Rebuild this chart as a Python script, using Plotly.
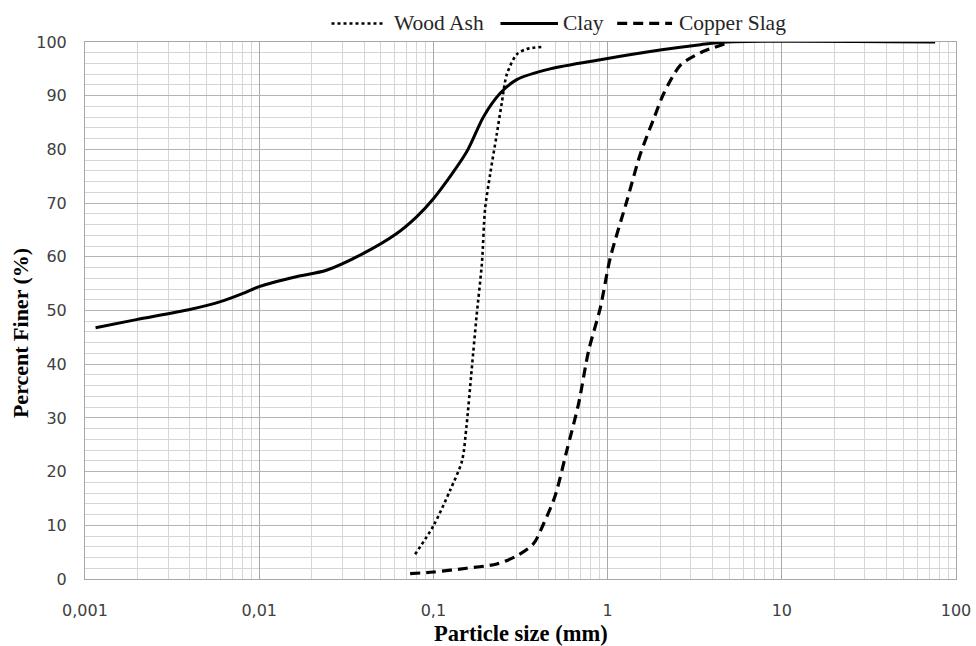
import plotly.graph_objects as go

# Particle size distribution data (size in mm, percent finer in %)
wood_ash_size = [0.0785, 0.1, 0.125, 0.146, 0.155, 0.166, 0.177, 0.19, 0.198, 0.212,
                 0.231, 0.247, 0.264, 0.301, 0.344, 0.428]
wood_ash_pct = [4.6, 9.9, 16.6, 22.0, 28.6, 39.1, 49.0, 58.9, 68.9, 75.5,
                82.8, 88.7, 94.0, 97.7, 98.7, 99.1]

clay_size = [0.00115, 0.00197, 0.00399, 0.00593, 0.00808, 0.0101, 0.0163, 0.0243,
             0.0394, 0.0613, 0.0798, 0.1, 0.155, 0.194, 0.241, 0.301, 0.468, 0.908,
             2.0, 3.41, 4.85, 75.9]
clay_pct = [46.8, 48.3, 50.2, 51.6, 53.2, 54.5, 56.3, 57.5,
            60.6, 64.3, 67.4, 70.8, 79.5, 86.1, 90.4, 93.0, 95.0, 96.7,
            98.5, 99.5, 100.0, 100.0]

copper_slag_size = [0.0735, 0.1, 0.155, 0.231, 0.301, 0.376, 0.428, 0.5, 0.584, 0.681,
                    0.778, 0.908, 1.036, 1.29, 1.54, 1.84, 2.1, 2.62, 3.41, 4.85]
copper_slag_pct = [1.0, 1.3, 2.0, 2.8, 4.3, 6.6, 10.2, 15.5, 24.0, 32.6,
                   42.5, 50.5, 59.8, 70.4, 79.1, 85.7, 90.4, 95.7, 98.0, 99.8]

series_names = ["Wood Ash", "Clay", "Copper Slag"]

x_tick_vals = [0.001, 0.01, 0.1, 1, 10, 100]
x_tick_text = ["0,001", "0,01", "0,1", "1", "10", "100"]
x_minor_vals = [m * d for d in [0.001, 0.01, 0.1, 1, 10] for m in range(2, 10)]
y_minor_vals = [v for v in range(0, 101, 2) if v % 10]

serif = "Liberation Serif"
sans = "DejaVu Sans"

styles = [
    dict(color="black", width=2.6, dash="dot"),
    dict(color="black", width=3),
    dict(color="black", width=3.2, dash="10px,6px"),
]
series = [(wood_ash_size, wood_ash_pct), (clay_size, clay_pct),
          (copper_slag_size, copper_slag_pct)]

fig = go.Figure()
for name, (xs, ys), st in zip(series_names, series, styles):
    fig.add_trace(go.Scatter(
        x=xs, y=ys, name=name, mode="lines", showlegend=False,
        line=dict(shape="spline", smoothing=0.8, **st),
    ))

# Legend row above the plot: sample line followed by its label
legend_rows = [(0.283, 0.342), (0.477, 0.543), (0.611, 0.674)]
label_gap = [0.010, 0.004, 0.006]
for name, (x0, x1), gap, st in zip(series_names, legend_rows, label_gap, styles):
    fig.add_shape(type="line", xref="paper", yref="paper",
                  x0=x0, x1=x1, y0=1.0345, y1=1.0345,
                  line=dict(color=st["color"], width=st["width"], dash=st.get("dash", "solid")))
    fig.add_annotation(xref="paper", yref="paper", x=x1 + gap, y=1.0345,
                       xanchor="left", yanchor="middle", showarrow=False,
                       text=name, font=dict(family=serif, size=21.5, color="#262626"))

# Axis titles
fig.add_annotation(xref="paper", yref="paper", x=0.5006, y=-0.1015,
                   xanchor="center", yanchor="middle", showarrow=False,
                   text="<b>Particle size (mm)</b>",
                   font=dict(family=serif, size=22.5, color="black"))
fig.add_annotation(xref="paper", yref="paper", x=-0.0746, y=0.458,
                   xanchor="center", yanchor="middle", showarrow=False, textangle=-90,
                   text="<b>Percent Finer (%)</b>",
                   font=dict(family=serif, size=22, color="black"))

fig.update_layout(
    width=976, height=646,
    margin=dict(l=85, r=20, t=42, b=67, autoexpand=False),
    plot_bgcolor="white", paper_bgcolor="white",
    showlegend=False,
)

fig.update_xaxes(
    type="log", range=[-3, 2],
    tickvals=x_tick_vals, ticktext=x_tick_text,
    tickfont=dict(family=sans, size=16, color="#404040"),
    ticks="", ticklabelstandoff=17,
    showgrid=True, gridcolor="#a8a8a8", gridwidth=1,
    minor=dict(tickvals=x_minor_vals, showgrid=True, gridcolor="#d6d6d6",
               gridwidth=1, ticks=""),
    showline=True, linecolor="#a8a8a8", linewidth=1, mirror=True,
    zeroline=False,
)

fig.update_yaxes(
    range=[0, 100], dtick=10,
    tickfont=dict(family=sans, size=16, color="#404040"),
    ticks="", ticklabelstandoff=14,
    showgrid=True, gridcolor="#b4b4b4", gridwidth=1,
    minor=dict(tickvals=y_minor_vals, showgrid=True, gridcolor="#d6d6d6",
               gridwidth=1, ticks=""),
    showline=True, linecolor="#a8a8a8", linewidth=1, mirror=True,
    zeroline=False,
)

fig.write_html("out.html")
